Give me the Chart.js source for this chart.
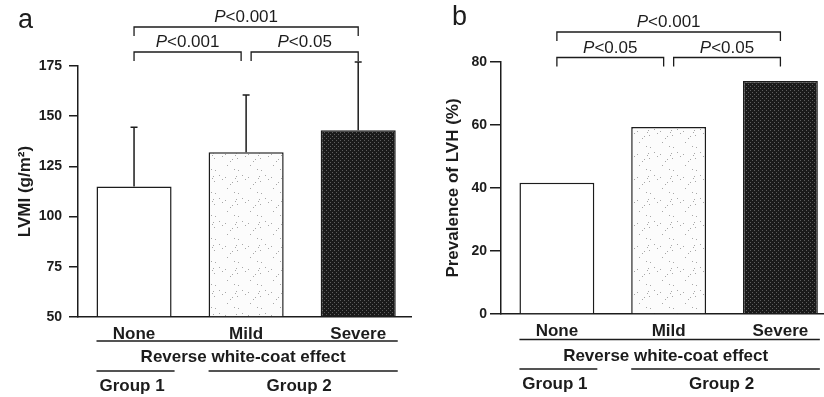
<!DOCTYPE html>
<html><head><meta charset="utf-8">
<script src="https://cdn.jsdelivr.net/npm/chart.js@4"></script>
<style>
html,body{margin:0;padding:0;background:#fff;overflow:hidden}
#wrap{position:relative;width:824px;height:397px}
.panel{position:absolute;top:0;height:397px}
</style></head><body>
<div id="wrap">
<div class="panel" style="left:0;width:412px"><canvas id="ca" width="412" height="397"></canvas></div>
<div class="panel" style="left:412px;width:412px"><canvas id="cb" width="412" height="397"></canvas></div>
</div>
<script>
// ---------- data ----------
const categories = ['None', 'Mild', 'Severe'];
const lvmiMean = [115, 132, 143];
const lvmiSD = [29.5, 28.5, 34];
const lvhPrevalence = [41.7, 59.4, 74];
const lvmiTicks = [50, 75, 100, 125, 150, 175];
const lvhTicks = [0, 20, 40, 60, 80];
const lvmiTitle = 'LVMI (g/m²)';
const lvhTitle = 'Prevalence of LVH (%)';
const effectLabel = 'Reverse white-coat effect';
const groupLabels = ['Group 1', 'Group 2'];
const lvmiCompFrom = [0, 1, 0];
const lvmiCompTo = [1, 2, 2];
const lvmiCompP = ['<0.001', '<0.05', '<0.001'];
const lvmiCompLevel = [0, 0, 1];
const lvhCompFrom = [0, 1, 0];
const lvhCompTo = [1, 2, 2];
const lvhCompP = ['<0.05', '<0.05', '<0.001'];
const lvhCompLevel = [0, 0, 1];

// ---------- style ----------
const FONT = '"Liberation Sans", Arial, Helvetica, sans-serif';
const INK = '#1c1c1c';
Chart.defaults.font.family = FONT;
Chart.defaults.color = INK;

function makePattern(ctx, size, bg, dot, test) {
  const c = document.createElement('canvas');
  c.width = c.height = size;
  const g = c.getContext('2d');
  g.fillStyle = bg; g.fillRect(0, 0, size, size);
  g.fillStyle = dot;
  for (let i = 0; i < size; i++) for (let j = 0; j < size; j++) if (test(i, j)) g.fillRect(i, j, 1, 1);
  return ctx.createPattern(c, 'repeat');
}

function pText(ctx, txt, cx, y) {
  const fi = 'italic 17px ' + FONT, fn = '17px ' + FONT;
  ctx.font = fi; const w1 = ctx.measureText('P').width;
  ctx.font = fn; const w2 = ctx.measureText(txt).width;
  const x0 = cx - (w1 + w2) / 2;
  ctx.textAlign = 'left'; ctx.textBaseline = 'alphabetic';
  ctx.font = fi; ctx.fillText('P', x0, y);
  ctx.font = fn; ctx.fillText(txt, x0 + w1, y);
}

function annotPlugin(o) {
  return {
    id: 'annot',
    afterDatasetsDraw(chart) {
      const ctx = chart.ctx;
      const bars = chart.getDatasetMeta(0).data;
      const ys = chart.scales.y;
      ctx.save();
      ctx.strokeStyle = INK; ctx.fillStyle = INK; ctx.lineWidth = 1.5;
      if (o.sd) {
        bars.forEach((b, i) => {
          const top = ys.getPixelForValue(o.mean[i] + o.sd[i]);
          ctx.beginPath();
          ctx.moveTo(b.x, b.y); ctx.lineTo(b.x, top);
          ctx.moveTo(b.x - 3.5, top); ctx.lineTo(b.x + 3.5, top);
          ctx.stroke();
        });
      }
      ctx.restore();
    },
    afterDraw(chart) {
      const ctx = chart.ctx;
      const bars = chart.getDatasetMeta(0).data;
      ctx.save();
      ctx.strokeStyle = INK; ctx.fillStyle = INK; ctx.lineWidth = 1.3;
      o.from.forEach((f, k) => {
        const t = o.to[k], lv = o.level[k];
        const shareL = o.from.some((ff, m) => m !== k && o.level[m] === lv && o.to[m] === f);
        const shareR = o.from.some((ff, m) => m !== k && o.level[m] === lv && ff === t);
        const x1 = bars[f].x + (shareL ? 5 : 0);
        const x2 = bars[t].x - (shareR ? 5 : 0);
        const y = o.bracketY[lv];
        ctx.beginPath();
        ctx.moveTo(x1, y + 9); ctx.lineTo(x1, y); ctx.lineTo(x2, y); ctx.lineTo(x2, y + 9);
        ctx.stroke();
        pText(ctx, o.p[k], (x1 + x2) / 2, y - 5);
      });
      const L = (i) => bars[i].x - bars[i].width / 2;
      const R = (i) => bars[i].x + bars[i].width / 2;
      ctx.lineWidth = 1.5;
      ctx.beginPath();
      ctx.moveTo(L(0), o.line1); ctx.lineTo(R(2) + 2, o.line1);
      ctx.moveTo(L(0), o.line2); ctx.lineTo(R(0) + 3, o.line2);
      ctx.moveTo(L(1), o.line2); ctx.lineTo(R(2) + 2, o.line2);
      ctx.stroke();
      ctx.font = 'bold 17px ' + FONT;
      ctx.textAlign = 'center'; ctx.textBaseline = 'alphabetic';
      ctx.fillText(effectLabel, bars[1].x - 3, o.effectY);
      ctx.fillText(groupLabels[0], bars[0].x - 2, o.groupY);
      ctx.fillText(groupLabels[1], (bars[1].x + bars[2].x) / 2 - 3, o.groupY);
      ctx.font = '27px ' + FONT;
      ctx.textAlign = 'left';
      ctx.fillText(o.letter, o.letterX, o.letterY);
      ctx.restore();
    }
  };
}

function makeChart(id, o) {
  const canvas = document.getElementById(id);
  const ctx = canvas.getContext('2d');
  const white = '#ffffff';
  const mild = makePattern(ctx, 23, '#fcfcfc', '#a8a8a8', (i, j) => ((i * 7 + j * 11 + i * j * 3) % 53) === 0);
  const severe = makePattern(ctx, 16, '#1a1a1a', '#5e5e5e', (i, j) => ((i * 5 + j * 3 + i * j) % 4) === 0);
  return new Chart(ctx, {
    type: 'bar',
    data: {
      datasets: [{
        data: o.values.map((v, i) => ({ x: i, y: v })),
        backgroundColor: [white, mild, severe],
        borderColor: INK,
        borderWidth: 1.5,
        barPercentage: 0.67,
        categoryPercentage: 1,
        base: o.ticks[0]
      }]
    },
    options: {
      responsive: false,
      animation: false,
      events: [],
      devicePixelRatio: 1,
      layout: { padding: { top: o.top, left: 0, right: 0, bottom: 0 } },
      plugins: { legend: { display: false }, tooltip: { enabled: false } },
      scales: {
        x: {
          type: 'linear',
          offset: false,
          bounds: 'data',
          min: -0.5,
          max: o.xmax,
          afterBuildTicks: (s) => { s.ticks = categories.map((c, i) => ({ value: i })); },
          afterFit: (s) => { s.height = o.xHeight; },
          ticks: {
            autoSkip: false, maxRotation: 0, padding: o.xPad,
            font: { size: 17, weight: 'bold' }, color: INK,
            callback: (v) => categories[v]
          },
          grid: { display: false, drawTicks: false, offset: false },
          border: { display: true, color: INK, width: 1.5 }
        },
        y: {
          min: o.ticks[0],
          max: o.ticks[o.ticks.length - 1],
          afterBuildTicks: (s) => { s.ticks = o.ticks.map(v => ({ value: v })); },
          afterFit: (s) => { s.width = o.yWidth; },
          ticks: { padding: o.yPad, font: { size: 14, weight: 'bold' }, color: INK },
          grid: { display: true, drawOnChartArea: false, drawTicks: true, tickLength: o.tickLen, color: INK, lineWidth: 1.5 },
          border: { display: true, color: INK, width: 1.5 },
          title: {
            display: true, text: o.title, color: INK,
            font: { size: 17, weight: 'bold' },
            padding: { top: o.titlePad, bottom: 0 }
          }
        }
      }
    },
    plugins: [annotPlugin(o)]
  });
}

makeChart('ca', {
  values: lvmiMean, mean: lvmiMean, sd: lvmiSD, ticks: lvmiTicks, title: lvmiTitle,
  from: lvmiCompFrom, to: lvmiCompTo, p: lvmiCompP, level: lvmiCompLevel,
  top: 66, xHeight: 80, xPad: 7, yWidth: 78, xmax: 2.48, titlePad: 15, yPad: 7, tickLen: 9,
  bracketY: [52, 27], line1: 341, effectY: 362, line2: 371, groupY: 391,
  letter: 'a', letterX: 18, letterY: 28
});
makeChart('cb', {
  values: lvhPrevalence, ticks: lvhTicks, title: lvhTitle,
  from: lvhCompFrom, to: lvhCompTo, p: lvhCompP, level: lvhCompLevel,
  top: 62, xHeight: 83, xPad: 7, yWidth: 89, xmax: 2.39, titlePad: 31, yPad: 3, tickLen: 11,
  bracketY: [57.5, 32], line1: 339.5, effectY: 361, line2: 369, groupY: 389,
  letter: 'b', letterX: 40, letterY: 25
});
</script>
</body></html>
